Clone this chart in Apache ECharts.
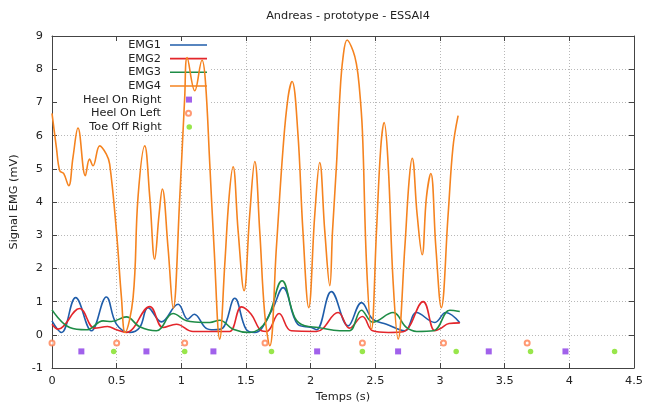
<!DOCTYPE html>
<html>
<head>
<meta charset="utf-8">
<script src="https://cdn.jsdelivr.net/npm/echarts@6/dist/echarts.min.js"></script>
<style>html,body{margin:0;padding:0;background:#fff}#c{width:646px;height:412px}</style>
</head>
<body>
<div id="c"></div>
<script>
const titleText = 'Andreas - prototype - ESSAI4';
const xName = 'Temps (s)';
const yName = 'Signal EMG (mV)';
const seriesNames = ['EMG1', 'EMG2', 'EMG3', 'EMG4', 'Heel On Right', 'Heel On Left', 'Toe Off Right'];

const emg1 = [[0,0.42],[0.073,0.07],[0.183,1.12],[0.305,0.12],[0.42,1.14],[0.498,0.32],[0.60,0.07],[0.678,0.22],[0.743,0.82],[0.846,0.39],[0.975,0.92],[1.05,0.47],[1.10,0.62],[1.19,0.2],[1.25,0.15],[1.32,0.2],[1.413,1.10],[1.50,0.17],[1.568,0.07],[1.697,0.72],[1.787,1.42],[1.90,0.32],[2.006,0.22],[2.045,0.15],[2.16,1.30],[2.29,0.27],[2.393,0.97],[2.48,0.47],[2.586,0.32],[2.728,0.12],[2.818,0.67],[2.96,0.37],[3.045,0.67],[3.153,0.36]];

const emg2 = [[0,0.32],[0.047,0.17],[0.214,0.79],[0.33,0.2],[0.43,0.25],[0.5,0.15],[0.575,0.07],[0.756,0.85],[0.859,0.22],[0.962,0.32],[1.09,0.10],[1.2,0.1],[1.3,0.1],[1.374,0.10],[1.465,0.84],[1.54,0.62],[1.62,0.12],[1.66,0.1],[1.756,0.64],[1.85,0.12],[2.045,0.1],[2.212,0.67],[2.30,0.2],[2.40,0.55],[2.48,0.12],[2.6,0.07],[2.715,0.09],[2.87,1.0],[2.96,0.12],[3.0,0.18],[3.07,0.34],[3.153,0.36]];

const emg3 = [[0,0.75],[0.137,0.22],[0.266,0.15],[0.395,0.42],[0.459,0.40],[0.575,0.54],[0.678,0.24],[0.807,0.12],[0.936,0.64],[1.04,0.42],[1.13,0.38],[1.22,0.37],[1.297,0.44],[1.40,0.17],[1.53,0.07],[1.658,0.42],[1.779,1.63],[1.877,0.52],[1.954,0.27],[2.057,0.22],[2.225,0.12],[2.30,0.12],[2.393,0.74],[2.48,0.38],[2.637,0.67],[2.74,0.22],[2.82,0.1],[2.95,0.12],[3.076,0.74],[3.153,0.70]];

const emg4 = [[0,6.67],[0.034,5.64],[0.06,4.94],[0.09,4.86],[0.129,4.49],[0.162,5.34],[0.201,6.23],[0.258,4.79],[0.29,5.29],[0.317,5.09],[0.369,5.69],[0.42,5.44],[0.446,5.14],[0.498,3.13],[0.537,1.12],[0.565,0.07],[0.627,1.12],[0.665,4.14],[0.717,5.69],[0.756,4.14],[0.794,2.28],[0.828,3.63],[0.853,4.39],[0.897,2.63],[0.937,0.8],[0.988,4.14],[1.026,7.15],[1.045,8.35],[1.104,7.35],[1.16,8.27],[1.186,7.65],[1.22,5.14],[1.253,2.63],[1.297,-0.13],[1.336,2.13],[1.369,4.14],[1.40,5.06],[1.439,3.13],[1.485,1.33],[1.529,3.63],[1.568,5.22],[1.606,3.13],[1.645,0.62],[1.684,-0.33],[1.735,2.63],[1.787,5.64],[1.825,7.15],[1.856,7.63],[1.90,6.14],[1.94,3.13],[1.985,0.82],[2.032,3.63],[2.07,5.19],[2.109,3.13],[2.148,1.48],[2.169,3.13],[2.2,5.14],[2.225,7.15],[2.25,8.35],[2.282,8.88],[2.328,8.55],[2.354,8.15],[2.374,7.55],[2.40,6.14],[2.432,2.13],[2.47,0.17],[2.509,3.13],[2.542,5.64],[2.568,6.39],[2.599,5.14],[2.637,1.63],[2.676,-0.13],[2.728,2.63],[2.761,4.64],[2.785,5.32],[2.823,3.63],[2.862,2.41],[2.895,4.14],[2.929,4.86],[2.968,2.63],[3.01,0.82],[3.063,3.63],[3.10,5.64],[3.14,6.60]];

const heelOnRightT = [0.227, 0.73, 1.248, 2.05, 2.676, 3.377, 3.97];
const heelOnRightY = -0.5;
const heelOnLeftT = [0.0, 0.50, 1.026, 1.647, 2.40, 3.027, 3.674];
const heelOnLeftY = -0.25;
const toeOffRightT = [0.477, 1.026, 1.697, 2.40, 3.125, 3.70, 4.35];
const toeOffRightY = -0.5;

const xTicks = {min: 0, max: 4.5, interval: 0.5};
const yTicks = {min: -1, max: 9, interval: 1};

const colors = ['#1f5daa', '#e3262b', '#1e8c46', '#f5831f', '#8a3ae6', '#ff7f50', '#7ee01e'];
const font = 'DejaVu Sans';
const fs = 11.3;
const txt = '#222';
const axisCol = '#444';

const chart = echarts.init(document.getElementById('c'), null, {renderer: 'canvas'});

function mkX(pos, labels) {
  return {
    type: 'value', position: pos, min: xTicks.min, max: xTicks.max, interval: xTicks.interval,
    axisLine: {show: true, onZero: false, lineStyle: {color: axisCol, width: 1}},
    axisTick: {show: true, inside: true, length: 5, lineStyle: {color: axisCol}},
    axisLabel: {show: labels, color: txt, fontSize: fs, fontFamily: font, margin: 8},
    splitLine: {show: labels, lineStyle: {color: '#b8b8b8', type: [1, 2], width: 1}},
    name: labels ? xName : '', nameLocation: 'middle', nameGap: 23,
    nameTextStyle: {color: txt, fontSize: fs, fontFamily: font}
  };
}
function mkY(pos, labels) {
  return {
    type: 'value', position: pos, min: yTicks.min, max: yTicks.max, interval: yTicks.interval,
    axisLine: {show: true, onZero: false, lineStyle: {color: axisCol, width: 1}},
    axisTick: {show: true, inside: true, length: 5, lineStyle: {color: axisCol}},
    axisLabel: {show: labels, color: txt, fontSize: fs, fontFamily: font, margin: 9},
    splitLine: {show: labels, lineStyle: {color: '#b8b8b8', type: [1, 2], width: 1}},
    name: labels ? yName : '', nameLocation: 'middle', nameGap: 32,
    nameTextStyle: {color: txt, fontSize: fs, fontFamily: font}
  };
}

const lineData = [emg1, emg2, emg3, emg4];
const series = lineData.map((d, i) => ({
  name: seriesNames[i], type: 'line', data: d, xAxisIndex: 0, yAxisIndex: 0,
  symbol: 'none', smooth: 0.4, color: colors[i],
  lineStyle: {color: colors[i], width: 1.6}, z: 3 + i
}));
series.push({
  name: seriesNames[4], type: 'scatter', symbol: 'rect', symbolSize: 6,
  data: heelOnRightT.map(t => [t, heelOnRightY]), itemStyle: {color: colors[4]}, color: colors[4], z: 10
});
series.push({
  name: seriesNames[5], type: 'scatter', symbol: 'emptyCircle', symbolSize: 5,
  data: heelOnLeftT.map(t => [t, heelOnLeftY]), itemStyle: {color: colors[5], borderColor: colors[5], borderWidth: 1.3}, color: colors[5], z: 10
});
series.push({
  name: seriesNames[6], type: 'scatter', symbol: 'circle', symbolSize: 5.5,
  data: toeOffRightT.map(t => [t, toeOffRightY]), itemStyle: {color: colors[6]}, color: colors[6], z: 10
});

const legendIcon = ['rect', 'rect', 'rect', 'rect', 'path://M0,0L10,0L10,10L0,10Z', null, null];
const legendIconH = [1.6, 1.6, 1.6, 1.6, 6, 5, 5.5];
const legendRight = [439, 439, 439, 439, 454, 454, 454];
const legends = seriesNames.map((n, i) => ({
  data: [legendIcon[i] ? {name: n, icon: legendIcon[i]} : n],
  right: legendRight[i], top: 45 + i * 13.65 - 7, align: 'right', orient: 'horizontal',
  itemWidth: 37, itemHeight: legendIconH[i], padding: 0, itemGap: 0, selectedMode: false,
  textStyle: {fontSize: fs, fontFamily: font, color: txt, lineHeight: 14, padding: [0, 4, 0, 0]}
}));

chart.setOption({
  animation: false,
  backgroundColor: '#fff',
  title: {text: titleText, left: 343, top: 6, textAlign: 'center',
    textStyle: {fontSize: fs, fontWeight: 'normal', fontFamily: font, color: txt}},
  grid: {left: 52, right: 12, top: 36, bottom: 44, containLabel: false},
  graphic: [{type: 'rect', shape: {x: 58, y: 42, width: 153, height: 90}, style: {fill: '#fff'}, z: 1, silent: true}],
  xAxis: [mkX('bottom', true), mkX('top', false)],
  yAxis: [mkY('left', true), mkY('right', false)],
  legend: legends,
  series: series
});
</script>
</body>
</html>
